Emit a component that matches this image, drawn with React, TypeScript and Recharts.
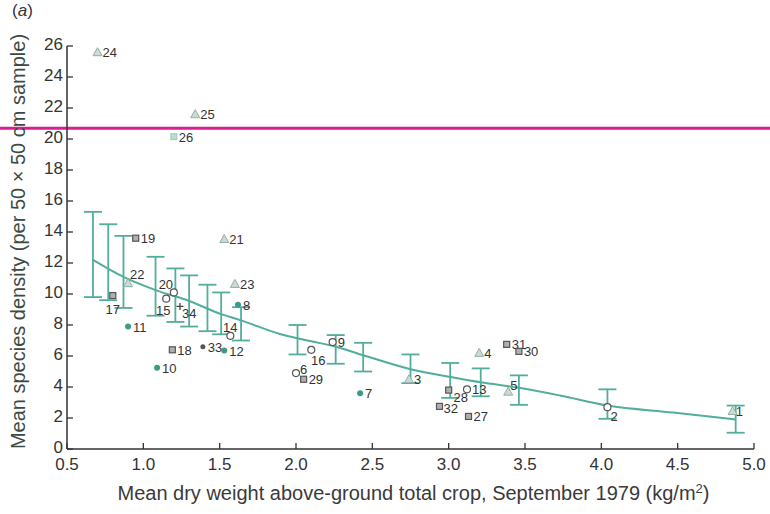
import React from "react";
import {
  ComposedChart,
  XAxis,
  YAxis,
  Scatter,
  Line,
  ErrorBar,
  ReferenceLine,
} from "recharts";

// axis ticks
const xTicks = [0.5, 1.0, 1.5, 2.0, 2.5, 3.0, 3.5, 4.0, 4.5, 5.0];
const yTicks = [0, 2, 4, 6, 8, 10, 12, 14, 16, 18, 20, 22, 24, 26];

// numbered sites (symbol = site type)
const siteIds = [
  24, 25, 26, 19, 21, 22, 17, 11, 20, 15, 34, 18, 10, 33, 12, 14, 23, 8, 6, 29,
  16, 9, 7, 3, 28, 32, 13, 27, 4, 31, 30, 5, 2, 1,
];
const siteWeight = [
  0.70, 1.34, 1.2, 0.95, 1.53, 0.9, 0.8, 0.9, 1.2, 1.15, 1.24, 1.19, 1.09, 1.39,
  1.53, 1.57, 1.6, 1.62, 2.0, 2.05, 2.1, 2.24, 2.42, 2.74, 3.0, 2.94, 3.12,
  3.13, 3.2, 3.38, 3.46, 3.39, 4.04, 4.86,
];
const siteDensity = [
  25.6, 21.6, 20.15, 13.6, 13.55, 10.7, 9.9, 7.9, 10.1, 9.7, 9.2, 6.4, 5.25, 6.6,
  6.35, 7.3, 10.65, 9.3, 4.9, 4.5, 6.4, 6.9, 3.6, 4.5, 3.8, 2.75, 3.85, 2.1,
  6.2, 6.75, 6.3, 3.7, 2.7, 2.45,
];
const siteSymbol = [
  "tri", "tri", "sqLight", "sq", "tri", "tri", "sq", "dot", "circ", "circ",
  "plus", "sq", "dot", "dark", "dot", "circ", "tri", "dot", "circ", "sq",
  "circ", "circ", "dot", "tri", "sq", "sq", "circ", "sq", "tri", "sq", "sq",
  "tri", "circ", "tri",
];

// error bars of the fitted relation
const barWeight = [
  0.67, 0.77, 0.87, 1.08, 1.21, 1.3, 1.42, 1.51, 1.64, 2.01, 2.26, 2.44, 2.75,
  3.01, 3.21, 3.46, 4.04, 4.88,
];
const barLow = [
  9.8, 9.6, 9.1, 8.6, 8.2, 7.9, 7.6, 7.4, 7.0, 6.1, 5.5, 5.0, 4.25, 3.3, 3.4,
  2.85, 1.95, 1.05,
];
const barHigh = [
  15.3, 14.5, 13.75, 12.4, 11.65, 11.2, 10.6, 10.1, 9.15, 8.0, 7.35, 6.85, 6.1,
  5.55, 5.2, 4.75, 3.85, 2.8,
];

// fitted curve
const curveWeight = [
  0.67, 0.87, 1.08, 1.3, 1.51, 1.64, 1.9, 2.1, 2.26, 2.44, 2.75, 3.01, 3.21,
  3.46, 3.73, 4.04, 4.47, 4.88,
];
const curveDensity = [
  12.2, 11.1, 10.25, 9.55, 8.7, 8.3, 7.4, 6.95, 6.6, 6.05, 5.15, 4.65, 4.3,
  3.95, 3.45, 2.8, 2.35, 1.9,
];

const pinkLevel = 20.7;

const TEAL = "#52ad9c";
const INK = "#333";

const sites = siteIds.map((id, i) => ({
  id,
  x: siteWeight[i],
  y: siteDensity[i],
  symbol: siteSymbol[i],
}));
const bars = barWeight.map((x, i) => {
  const mid = (barLow[i] + barHigh[i]) / 2;
  return { x, y: mid, err: [mid - barLow[i], barHigh[i] - mid] };
});
const curve = curveWeight.map((x, i) => ({ x, y: curveDensity[i] }));

// label placement tweaks: [dx, dy, anchor]
const labelTweaks: Record<number, [number, number, string]> = {
  20: [-8, -3, "middle"],
  15: [-3, 16, "middle"],
  17: [0, 18, "middle"],
  14: [0, -4, "middle"],
  6: [4, 1, "start"],
  16: [7, 15, "middle"],
  28: [12, 12, "middle"],
  32: [4, 7, "start"],
  5: [2, -2, "start"],
  2: [3, 14, "start"],
  34: [2, 12, "start"],
  22: [2, -4, "start"],
  1: [3, 5, "start"],
};

const SiteMark = (props: any) => {
  const { cx, cy, payload } = props;
  if (cx == null || cy == null) return <g />;
  let mark: React.ReactNode = null;
  switch (payload.symbol) {
    case "tri":
      mark = (
        <polygon
          points={`${cx},${cy - 4.5} ${cx - 4.5},${cy + 3.5} ${cx + 4.5},${cy + 3.5}`}
          fill="#c9dbd4"
          stroke="#8fb0a6"
          strokeWidth={1}
        />
      );
      break;
    case "sq":
      mark = (
        <rect x={cx - 3} y={cy - 3} width={6} height={6} fill="#b0b0b0" stroke="#555" strokeWidth={1.2} />
      );
      break;
    case "sqLight":
      mark = (
        <rect x={cx - 3} y={cy - 3} width={6} height={6} fill="#b9dcd3" stroke="#9cc8bd" strokeWidth={1} />
      );
      break;
    case "circ":
      mark = <circle cx={cx} cy={cy} r={3.5} fill="#fff" stroke="#555" strokeWidth={1.2} />;
      break;
    case "dot":
      mark = <circle cx={cx} cy={cy} r={3} fill="#3e9a86" />;
      break;
    case "dark":
      mark = <circle cx={cx} cy={cy} r={2.5} fill="#555" />;
      break;
    case "plus":
      mark = (
        <path d={`M${cx - 3.5},${cy}H${cx + 3.5}M${cx},${cy - 3.5}V${cy + 3.5}`} stroke="#444" strokeWidth={1.3} />
      );
      break;
  }
  const [dx, dy, anchor] = labelTweaks[payload.id] || [5, 5, "start"];
  return (
    <g>
      {mark}
      <text
        x={cx + dx}
        y={cy + dy}
        textAnchor={anchor as any}
        fontSize={13}
        fill={INK}
        fontFamily="Liberation Sans, Arial, sans-serif"
      >
        {payload.id}
      </text>
    </g>
  );
};

const XTick = (props: any) => {
  const { x, y, payload } = props;
  return (
    <g>
      <line x1={x} x2={x} y1={y} y2={y - 6} stroke={INK} strokeWidth={1.3} />
      <text x={x} y={y + 21} textAnchor="middle" fontSize={17} fill={INK}>
        {payload.value.toFixed(1)}
      </text>
    </g>
  );
};

const YTick = (props: any) => {
  const { x, y, payload } = props;
  return (
    <g>
      <line x1={x} x2={x + 6} y1={y} y2={y} stroke={INK} strokeWidth={1.3} />
      <text x={x - 4} y={y - 2} dy="0.36em" textAnchor="end" fontSize={17} fill={INK}>
        {payload.value}
      </text>
    </g>
  );
};

const App = () => {
  return (
    <div
      style={{
        position: "absolute",
        left: 0,
        top: 0,
        width: 770,
        height: 514,
        background: "#fff",
        fontFamily: "Liberation Sans, Arial, sans-serif",
      }}
    >
      <div style={{ position: "absolute", left: 12, top: 1, fontSize: 17, color: INK }}>
        (<i>a</i>)
      </div>
      <ComposedChart
        width={770}
        height={514}
        margin={{ top: 46, right: 16, bottom: 0, left: 0 }}
        style={{ fontFamily: "Liberation Sans, Arial, sans-serif" }}
      >
        <XAxis
          type="number"
          dataKey="x"
          domain={[0.5, 5]}
          ticks={xTicks}
          allowDataOverflow
          height={65}
          tickSize={0}
          tickMargin={0}
          tickLine={false}
          tick={<XTick />}
          interval={0}
          axisLine={{ stroke: INK, strokeWidth: 1.5 }}
          label={{
            content: (p: any) => {
              const vb = p.viewBox;
              return (
                <text
                  x={vb.x + vb.width / 2 + 3}
                  y={vb.y + 51}
                  textAnchor="middle"
                  fontSize={20}
                  fill="#3a3a3a"
                >
                  Mean dry weight above-ground total crop, September 1979 (kg/m
                  <tspan dy={-7} fontSize={13}>2</tspan>
                  <tspan dy={7}>)</tspan>
                </text>
              );
            },
          }}
        />
        <YAxis
          type="number"
          dataKey="y"
          domain={[0, 26]}
          ticks={yTicks}
          allowDataOverflow
          width={67}
          tickSize={0}
          tickMargin={0}
          tickLine={false}
          tick={<YTick />}
          interval={0}
          axisLine={{ stroke: INK, strokeWidth: 1.5 }}
          label={{
            content: (p: any) => {
              const vb = p.viewBox;
              const cx = 18;
              const cy = vb.y + vb.height / 2 - 6;
              return (
                <text
                  x={cx}
                  y={cy}
                  transform={`rotate(-90 ${cx} ${cy})`}
                  textAnchor="middle"
                  dominantBaseline="central"
                  fontSize={20}
                  fill="#3d4a43"
                >
                  Mean species density (per 50 × 50 cm sample)
                </text>
              );
            },
          }}
        />
        <Line
          data={curve}
          dataKey="y"
          type="monotone"
          stroke={TEAL}
          strokeWidth={2}
          dot={false}
          activeDot={false}
          isAnimationActive={false}
        />
        <Scatter data={bars} dataKey="y" shape={() => <g />} isAnimationActive={false}>
          <ErrorBar dataKey="err" direction="y" width={9} stroke={TEAL} strokeWidth={1.8} />
        </Scatter>
        <Scatter data={sites} dataKey="y" shape={<SiteMark />} isAnimationActive={false} />
        <ReferenceLine
          y={pinkLevel}
          shape={(p: any) => (
            <line x1={0} x2={770} y1={p.y1} y2={p.y2} stroke="#dc1f8e" strokeWidth={3} />
          )}
        />
      </ComposedChart>
    </div>
  );
};

export default App;
